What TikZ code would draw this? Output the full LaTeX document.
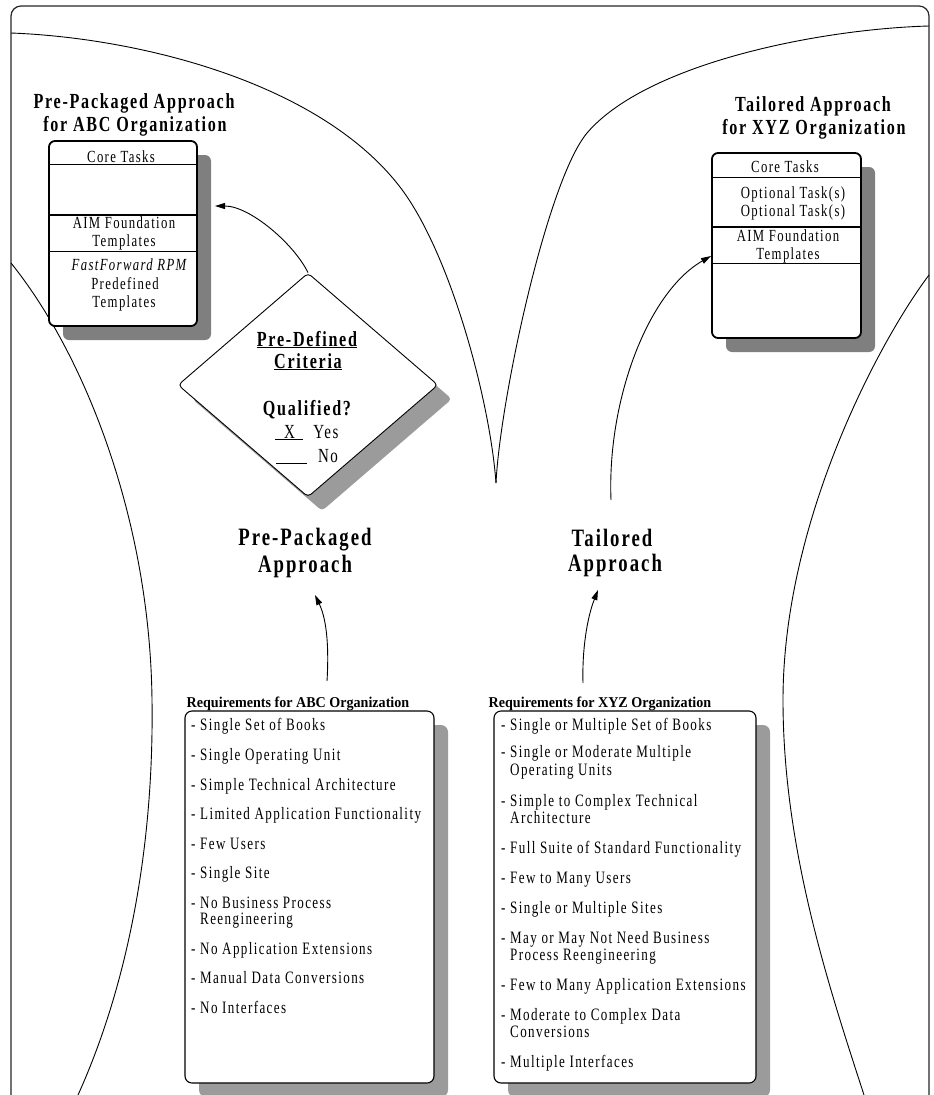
\documentclass[tikz,border=0pt]{standalone}
\usepackage{fontspec}
\setmainfont{Liberation Serif}[FakeStretch=0.75, LetterSpace=8]
\newfontfamily\hdrfont{Liberation Serif}[FakeStretch=0.94]
\usetikzlibrary{shapes.geometric, arrows.meta, shadows}

\definecolor{boxshade}{HTML}{7F7F7F}
\definecolor{softshade}{HTML}{9B9B9B}
\definecolor{framecol}{HTML}{262626}

\tikzset{
  curveline/.style={line width=0.9pt},
  framebox/.style={line width=1.2pt, draw=framecol, rounded corners=10pt},
  taskbox/.style={draw, line width=1.8pt, fill=white, rounded corners=6pt,
    minimum width=148pt, minimum height=185pt, inner sep=0pt,
    drop shadow={shadow xshift=14pt, shadow yshift=-14pt, fill=boxshade, opacity=1}},
  reqbox/.style={draw, line width=1.1pt, fill=white, rounded corners=7pt,
    minimum height=372pt, inner sep=0pt,
    drop shadow={shadow xshift=14pt, shadow yshift=-14pt, fill=softshade, opacity=1}},
  decision/.style={diamond, draw, line width=0.9pt, fill=white, rounded corners=4pt,
    minimum width=260pt, minimum height=224pt, inner sep=0pt,
    drop shadow={shadow xshift=14pt, shadow yshift=-14pt, fill=softshade, opacity=1}},
  thinsep/.style={line width=0.9pt},
  thicksep/.style={line width=1.8pt},
  boxtxt/.style={anchor=base, inner sep=0pt, font=\fontsize{17}{19}\selectfont},
  listtxt/.style={anchor=base west, inner sep=0pt, font=\fontsize{17.4}{19}\selectfont},
  ttl/.style={anchor=base, inner sep=0pt, font=\bfseries\fontsize{21.5}{24}\selectfont},
  appr/.style={anchor=base, inner sep=0pt, font=\bfseries\fontsize{25}{28}\selectfont},
  dtxt/.style={anchor=base, inner sep=0pt, font=\bfseries\fontsize{21.5}{24}\selectfont},
  dopt/.style={anchor=base, inner sep=0pt, font=\fontsize{20}{22}\selectfont},
  hdr/.style={anchor=base, inner sep=0pt, font=\hdrfont\bfseries\fontsize{15}{17}\selectfont},
  arr/.style={-{Triangle[length=10pt,width=6pt]}, line width=0.9pt}
}

\begin{document}
\begin{tikzpicture}[x=1pt, y=-1pt]
\useasboundingbox (0,0) rectangle (934,1095);
\clip (0,0) rectangle (934,1095);

% outer frame, open at the bottom
\draw[framebox] (11,1100) -- (11,6) -- (929,6) -- (929,1100);

% sweeping background arcs
\draw[curveline] (11,33) .. controls (141,38) and (320,83) .. (400,187)
  .. controls (450,252) and (490,400) .. (496,483);
\draw[curveline] (929,26) .. controls (820,29) and (647,63) .. (587,133)
  .. controls (547,181) and (500,400) .. (496,483);
\draw[curveline] (11,263) .. controls (85,355) and (150,520) .. (152,700)
  .. controls (154,840) and (130,980) .. (78,1095);
\draw[curveline] (929,275) .. controls (880,340) and (783,520) .. (783,700)
  .. controls (783,850) and (830,990) .. (864,1095);

% ---------- pre-packaged task stack ----------
\node[ttl] (ttlA1) at (134,108) {Pre-Packaged Approach};
\node[ttl] (ttlA2) at (135,131) {for ABC Organization};
\node[taskbox] (lbox) at (123,233.5) {};
\draw[thinsep]  (49,164) -- (197,164);
\draw[thicksep] (49,215) -- (197,215);
\draw[thinsep]  (49,251) -- (197,251);
\node[boxtxt] (lcore) at (121,162) {Core Tasks};
\node[boxtxt] (laim1) at (124,228) {AIM Foundation};
\node[boxtxt] (laim2) at (124,246.5) {Templates};
\node[boxtxt] (lff1) at (129,270.5) {\itshape FastForward RPM};
\node[boxtxt] (lff2) at (125,289) {Predefined};
\node[boxtxt] (lff3) at (124,307) {Templates};

% ---------- tailored task stack ----------
\node[ttl] (ttlB1) at (813,111.5) {Tailored Approach};
\node[ttl] (ttlB2) at (814,134.5) {for XYZ Organization};
\node[taskbox, minimum width=149pt] (rbox) at (786.5,245.5) {};
\draw[thinsep]  (712,177) -- (861,177);
\draw[thicksep] (712,227) -- (861,227);
\draw[thinsep]  (712,263) -- (861,263);
\node[boxtxt] (rcore) at (785,172.5) {Core Tasks};
\node[boxtxt] (ropt1) at (793,198.5) {Optional Task(s)};
\node[boxtxt] (ropt2) at (793,216) {Optional Task(s)};
\node[boxtxt] (raim1) at (788,241.5) {AIM Foundation};
\node[boxtxt] (raim2) at (788,259) {Templates};

% ---------- decision ----------
\node[decision] (diam) at (308,385) {};
\node[dtxt] (crit1) at (307,346) {\underline{Pre-Defined}};
\node[dtxt] (crit2) at (308,368) {\underline{Criteria}};
\node[dtxt] (qual) at (307,415) {Qualified?};
\node[dopt] (optY) at (307,438) {\underline{\makebox[28pt]{X}}\hspace{10pt}Yes};
\node[dopt] (optN) at (307,462) {\underline{\hspace{31pt}}\hspace{11pt}No};

% ---------- approach labels ----------
\node[appr] (apA1) at (305,545) {Pre-Packaged};
\node[appr] (apA2) at (305,572) {Approach};
\node[appr] (apB1) at (612,546) {Tailored};
\node[appr] (apB2) at (615,571) {Approach};

% ---------- requirement lists ----------
\node[hdr] (hdrA) at (298,707) {Requirements for ABC Organization};
\node[hdr] (hdrB) at (600,707) {Requirements for XYZ Organization};
\node[reqbox, minimum width=249pt] (reqA) at (309.5,897) {};
\node[reqbox, minimum width=262pt] (reqB) at (625,897) {};

\node[listtxt] (a1) at (191,730) {- Single Set of Books};
\node[listtxt] (a2) at (191,760) {- Single Operating Unit};
\node[listtxt] (a3) at (191,790) {- Simple Technical Architecture};
\node[listtxt] (a4) at (191,819.5) {- Limited Application Functionality};
\node[listtxt] (a5) at (191,849) {- Few Users};
\node[listtxt] (a6) at (191,878.5) {- Single Site};
\node[listtxt] (a7) at (191,908) {- No Business Process};
\node[listtxt] (a7b) at (191,924.5) {\phantom{-}\ Reengineering};
\node[listtxt] (a8) at (191,954) {- No Application Extensions};
\node[listtxt] (a9) at (191,983.5) {- Manual Data Conversions};
\node[listtxt] (a10) at (191,1013) {- No Interfaces};

\node[listtxt] (b1) at (501,730) {- Single or Multiple Set of Books};
\node[listtxt] (b2) at (501,757.5) {- Single or Moderate Multiple};
\node[listtxt] (b2b) at (501,775) {\phantom{-}\ Operating Units};
\node[listtxt] (b3) at (501,806) {- Simple to Complex Technical};
\node[listtxt] (b3b) at (501,823) {\phantom{-}\ Architecture};
\node[listtxt] (b4) at (501,853) {- Full Suite of Standard Functionality};
\node[listtxt] (b5) at (501,883) {- Few to Many Users};
\node[listtxt] (b6) at (501,913) {- Single or Multiple Sites};
\node[listtxt] (b7) at (501,943) {- May or May Not Need Business};
\node[listtxt] (b7b) at (501,960.5) {\phantom{-}\ Process Reengineering};
\node[listtxt] (b8) at (501,990.5) {- Few to Many Application Extensions};
\node[listtxt] (b9) at (501,1020) {- Moderate to Complex Data};
\node[listtxt] (b9b) at (501,1037.5) {\phantom{-}\ Conversions};
\node[listtxt] (b10) at (501,1067) {- Multiple Interfaces};

% ---------- connectors ----------
\coordinate (lTip) at (215,206);
\draw[arr] (diam.north) .. controls (294,244) and (250,206) .. (lTip);

\coordinate (tStart) at (611,500);
\coordinate (rTip) at (711,256);
\draw[arr] (tStart) .. controls (607,400) and (648,292) .. (rTip);

\coordinate (aStart) at (327,681);
\coordinate (aTip) at (315,595);
\draw[arr] (aStart) .. controls (329,648) and (327,620) .. (aTip);

\coordinate (bStart) at (583,683);
\coordinate (bTip) at (598,590);
\draw[arr] (bStart) .. controls (582,650) and (587,618) .. (bTip);
\end{tikzpicture}
\end{document}
